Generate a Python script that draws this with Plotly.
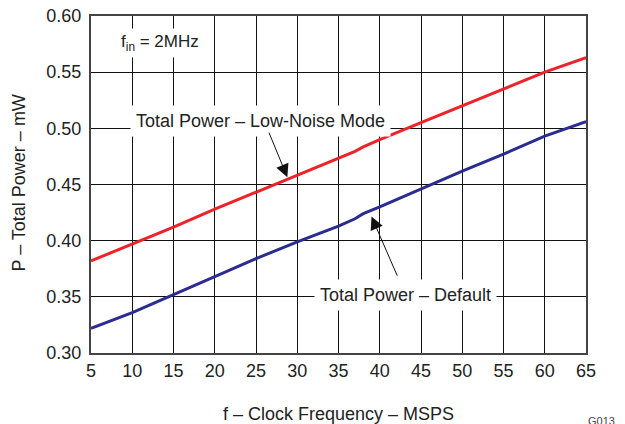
import plotly.graph_objects as go

# clock frequency [MSPS]
freq = [5, 10, 15, 20, 25, 30, 35, 37, 38, 40, 45, 50, 55, 60, 65]
# total power [mW]
p_low_noise = [0.382, 0.397, 0.412, 0.428, 0.443, 0.458, 0.4735, 0.4795, 0.4835, 0.490,
               0.505, 0.520, 0.535, 0.550, 0.563]
p_default = [0.322, 0.336, 0.352, 0.368, 0.384, 0.399, 0.413, 0.4195, 0.4240, 0.430,
             0.446, 0.462, 0.477, 0.493, 0.506]

x_ticks = list(range(5, 70, 5))
y_ticks = [0.30, 0.35, 0.40, 0.45, 0.50, 0.55, 0.60]

FONT = "Liberation Sans, Arial, sans-serif"
TXT = "#222222"

fig = go.Figure()
fig.add_trace(go.Scatter(x=freq, y=p_low_noise, mode="lines",
                         line=dict(color="#ee2229", width=3), showlegend=False))
fig.add_trace(go.Scatter(x=freq, y=p_default, mode="lines",
                         line=dict(color="#2b2b90", width=3), showlegend=False))

# text labels with white boxes (hide the grid under them)
fig.add_annotation(x=8.1, y=0.576, xref="x", yref="y", text="f<sub>in</sub> = 2MHz",
                   showarrow=False, xanchor="left", bgcolor="white", borderpad=3,
                   font=dict(size=17, color=TXT))
fig.add_annotation(x=9.7, y=0.5065, xref="x", yref="y", text="Total Power – Low-Noise Mode",
                   showarrow=False, xanchor="left", bgcolor="white", borderpad=5,
                   font=dict(size=18, color=TXT))
fig.add_annotation(x=32.0, y=0.3515, xref="x", yref="y", text="Total Power – Default",
                   showarrow=False, xanchor="left", bgcolor="white", borderpad=5,
                   font=dict(size=18, color=TXT))

# arrows
fig.add_annotation(x=28.8, y=0.4565, xref="x", yref="y", ax=26.5, ay=0.4975,
                   axref="x", ayref="y", text="", showarrow=True,
                   arrowhead=2, arrowsize=2.6, arrowwidth=1, arrowcolor="#111")
fig.add_annotation(x=39.0, y=0.4215, xref="x", yref="y", ax=42.2, ay=0.3675,
                   axref="x", ayref="y", text="", showarrow=True,
                   arrowhead=2, arrowsize=2.6, arrowwidth=1, arrowcolor="#111")

# y axis title, placed by hand
fig.add_annotation(x=-0.146, y=0.505, xref="paper", yref="paper",
                   text="P – Total Power – mW", textangle=-90, showarrow=False,
                   xanchor="center", yanchor="middle", font=dict(size=18, color=TXT))

fig.add_annotation(x=1.0, y=-0.178, xref="paper", yref="paper", text="G013",
                   showarrow=False, xanchor="left", yanchor="top",
                   font=dict(size=11, color="#444"))

# page body has an 8px margin, so the figure is placed at (8, 8)
fig.update_layout(
    width=617, height=416,
    margin=dict(l=83, r=39, t=8, b=71),
    plot_bgcolor="white", paper_bgcolor="white",
    font=dict(family=FONT, size=18, color=TXT),
)
fig.update_xaxes(range=[5, 65], tickvals=x_ticks, showgrid=True, gridcolor="#111",
                 gridwidth=1, showline=True, linecolor="#444", linewidth=2, mirror=True,
                 ticks="", zeroline=False, tickfont=dict(size=18), automargin=False,
                 ticklabeloverflow="allow",
                 title=dict(text="f – Clock Frequency – MSPS", standoff=29,
                            font=dict(size=18)))
fig.update_yaxes(range=[0.30, 0.60], tickvals=y_ticks, tickformat=".2f",
                 showgrid=True, gridcolor="#111", gridwidth=1, showline=True,
                 linecolor="#444", linewidth=2, mirror=True, ticks="", zeroline=False,
                 tickfont=dict(size=18), automargin=False, ticklabeloverflow="allow",
                 ticklabelstandoff=4)

fig.write_html("out.html")
